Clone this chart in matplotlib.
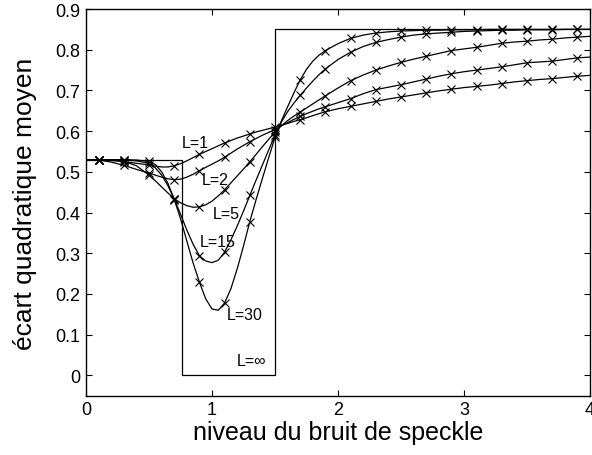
import numpy as np
import matplotlib
matplotlib.use("Agg")
import matplotlib.pyplot as plt

plt.rcParams['font.family'] = ['Liberation Sans', 'DejaVu Sans']

# speckle noise level (abscissa of every curve)
x = [0.0, 0.1, 0.2, 0.3, 0.4, 0.5,
     0.55, 0.6, 0.65, 0.7, 0.75, 0.8, 0.85, 0.9, 0.95, 1.0,
     1.05, 1.1, 1.15, 1.2, 1.25, 1.3, 1.35, 1.4, 1.45, 1.5,
     1.55, 1.6, 1.65, 1.7, 1.75, 1.8, 1.85, 1.9,
     2.0, 2.1, 2.2, 2.3, 2.4, 2.5, 2.6, 2.7, 2.8, 2.9, 3.0,
     3.1, 3.2, 3.3, 3.4, 3.5, 3.6, 3.7, 3.8, 3.9, 4.0]

# root mean square error for each number of looks L
rmse_L1 = [.530, .530, .528, .525, .521, .517,
           .514, .512, .512, .515, .520, .527, .535, .543, .550, .557,
           .564, .571, .577, .583, .588, .593, .598, .602, .606, .610,
           .615, .619, .624, .628, .633, .638, .643, .648,
           .655, .661, .667, .673, .679, .684, .689, .694, .699, .703, .707,
           .710, .713, .717, .721, .724, .727, .729, .732, .735, .737]
rmse_L2 = [.530, .529, .524, .516, .506, .497,
           .492, .487, .483, .481, .482, .487, .494, .503, .511, .519,
           .527, .536, .546, .556, .565, .574, .582, .590, .597, .604,
           .613, .621, .629, .636, .643, .649, .655, .660,
           .670, .680, .692, .702, .708, .714, .721, .728, .735, .741, .746,
           .750, .754, .758, .763, .768, .770, .772, .776, .780, .782]
rmse_L5 = [.530, .530, .529, .526, .515, .492,
           .478, .463, .448, .434, .424, .417, .413, .414, .419, .428,
           .441, .456, .473, .490, .507, .525, .543, .562, .580, .598,
           .613, .626, .637, .647, .657, .667, .677, .687,
           .706, .724, .738, .750, .760, .769, .777, .784, .791, .798, .802,
           .806, .811, .816, .819, .821, .824, .826, .829, .831, .833]
rmse_L15 = [.530, .530, .530, .529, .527, .521,
            .510, .492, .466, .434, .396, .357, .322, .294, .281, .277,
            .283, .303, .333, .367, .404, .442, .480, .517, .554, .590,
            .622, .648, .669, .688, .706, .723, .739, .753,
            .776, .794, .808, .818, .825, .831, .836, .839, .841, .843, .845,
            .846, .847, .848, .848, .849, .849, .849, .850, .850, .850]
rmse_L30 = [.530, .530, .530, .530, .529, .526,
            .518, .500, .472, .432, .385, .330, .276, .229, .188, .163,
            .160, .178, .213, .262, .318, .378, .432, .484, .535, .585,
            .625, .660, .694, .726, .752, .772, .787, .798,
            .815, .828, .836, .841, .844, .846, .847, .848, .848, .849, .849,
            .849, .850, .850, .850, .850, .850, .850, .850, .850, .850]

# limiting case L = infinity: piecewise constant
inf_edges = [0.0, 0.76, 1.5, 4.0]
inf_levels = [0.53, 0.0, 0.85]

curve_labels = ["L=1", "L=2", "L=5", "L=15", "L=30", "L=\u221e"]
label_pos = [(0.76, 0.571), (0.915, 0.482), (1.005, 0.397),
             (0.905, 0.328), (1.117, 0.149), (1.196, 0.037)]

xticks = [0, 1, 2, 3, 4]
yticks = [0, 0.1, 0.2, 0.3, 0.4, 0.5, 0.6, 0.7, 0.8, 0.9]
ytick_labels = ["0", "0.1", "0.2", "0.3", "0.4", "0.5", "0.6", "0.7", "0.8", "0.9"]

fig = plt.figure(figsize=(5.92, 4.56), dpi=100)
ax = fig.add_axes([0.1453, 0.130, 0.8514, 0.848])

xa = np.array(x)
marked = np.isin(np.round(xa, 2), np.round(np.arange(0.1, 4.0, 0.2), 2))

for series in [rmse_L1, rmse_L2, rmse_L5, rmse_L15, rmse_L30]:
    ya = np.array(series)
    ax.plot(xa, ya, color='black', lw=0.9)
    ax.plot(xa[marked], ya[marked], ls='none', marker='x', color='black',
            ms=5.5, mew=0.8)

ax.stairs(inf_levels, inf_edges, baseline=None, color='black', lw=0.9)

for txt, (tx, ty) in zip(curve_labels, label_pos):
    ax.text(tx, ty, txt, fontsize=11.5, ha='left', va='center')

ax.set_xlim(0, 4)
ax.set_ylim(-0.05, 0.9)
ax.set_xticks(xticks)
ax.set_xticklabels([str(t) for t in xticks])
ax.set_yticks(yticks)
ax.set_yticklabels(ytick_labels)
ax.tick_params(direction='in', length=4.5, width=0.8, labelsize=13,
               top=True, right=True, pad=4)
for sp in ax.spines.values():
    sp.set_linewidth(1.0)

ax.set_xlabel("niveau du bruit de speckle", fontsize=18, labelpad=1)
ax.set_ylabel("écart quadratique moyen", fontsize=19, labelpad=13)

fig.savefig("out.png", dpi=100)
